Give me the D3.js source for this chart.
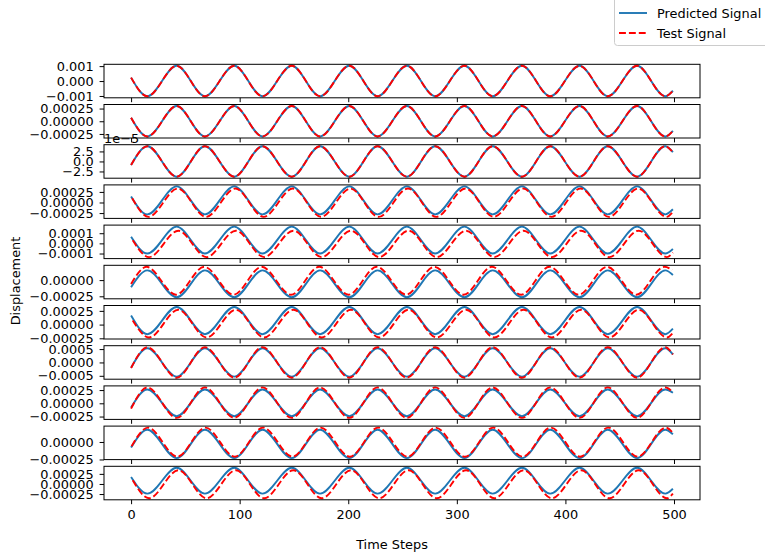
<!DOCTYPE html>
<html>
<head>
<meta charset="utf-8">
<script src="https://cdn.jsdelivr.net/npm/d3@7"></script>
<style>
  html, body { margin: 0; padding: 0; background: #fff; }
  svg { display: block; font-family: 'DejaVu Sans', sans-serif; }
</style>
</head>
<body>
<div id="chart"></div>
<script>
const SIZE = Object.freeze({ WIDTH: 765, HEIGHT: 556 }),
      PLOT = Object.freeze({ LEFT: 104, RIGHT: 700, TOP: 64.3, HEIGHT: 33.5, STEP: 40.2 }),
      FONT_SIZE = 12.9,
      TICK_SIZE = 4.4,
      BLUE = '#1f77b4',
      RED = '#ff0000',
      UNIT = 1e-5

// time steps where the waves turn, plus first and last sample
const STEPS = [0, 15, 42, 68, 95, 121, 148, 174, 201, 227, 254, 280, 307, 333, 360, 386, 413, 439, 466, 492, 499]
const X_TICKS = [0, 100, 200, 300, 400, 500]

// displacement, in units of 1e-5
const PREDICTED = [
  [23, -102, 102, -102, 102, -102, 102, -102, 102, -102, 102, -102, 102, -102, 102, -102, 102, -102, 102, -102, -65],
  [7, -30, 30, -30, 30, -30, 30, -30, 30, -30, 30, -30, 30, -30, 30, -30, 30, -30, 30, -30, -19],
  [-0.9, 3.8, -3.8, 3.8, -3.8, 3.8, -3.8, 3.8, -3.8, 3.8, -3.8, 3.8, -3.8, 3.8, -3.8, 3.8, -3.8, 3.8, -3.8, 3.8, 2.3],
  [14, -28, 38, -28, 38, -28, 38, -28, 38, -28, 38, -28, 38, -28, 38, -28, 38, -28, 38, -28, -16],
  [6.5, -10, 16.5, -10, 16.5, -10, 16.5, -10, 16.5, -10, 16.5, -10, 16.5, -10, 16.5, -10, 16.5, -10, 16.5, -10, -5.5],
  [-11, 15, -26.5, 15, -26.5, 15, -26.5, 15, -26.5, 15, -26.5, 15, -26.5, 15, -26.5, 15, -26.5, 15, -26.5, 15, 8],
  [16.5, -17.5, 32, -17.5, 32, -17.5, 32, -17.5, 32, -17.5, 32, -17.5, 32, -17.5, 32, -17.5, 32, -17.5, 32, -17.5, -7.5],
  [-20, 53, -53, 53, -53, 53, -53, 53, -53, 53, -53, 53, -53, 53, -53, 53, -53, 53, -53, 53, 30],
  [-8, 26, -24.5, 26, -24.5, 26, -24.5, 26, -24.5, 26, -24.5, 26, -24.5, 26, -24.5, 26, -24.5, 26, -24.5, 26, 20],
  [-8, 17.5, -23, 17.5, -23, 17.5, -23, 17.5, -23, 17.5, -23, 17.5, -23, 17.5, -23, 17.5, -23, 17.5, -23, 17.5, 11],
  [17.5, -24, 40, -24, 40, -24, 40, -24, 40, -24, 40, -24, 40, -24, 40, -24, 40, -24, 40, -24, -12]
]
const TEST = [
  [23, -102, 102, -102, 102, -102, 102, -102, 102, -102, 102, -102, 102, -102, 102, -102, 102, -102, 102, -102, -65],
  [7, -30, 30, -30, 30, -30, 30, -30, 30, -30, 30, -30, 30, -30, 30, -30, 30, -30, 30, -30, -19],
  [-0.9, 3.8, -3.8, 3.8, -3.8, 3.8, -3.8, 3.8, -3.8, 3.8, -3.8, 3.8, -3.8, 3.8, -3.8, 3.8, -3.8, 3.8, -3.8, 3.8, 2.3],
  [10, -34, 33, -34, 33, -34, 33, -34, 33, -34, 33, -34, 33, -34, 33, -34, 33, -34, 33, -34, -22],
  [3, -13.5, 12.5, -13.5, 12.5, -13.5, 12.5, -13.5, 12.5, -13.5, 12.5, -13.5, 12.5, -13.5, 12.5, -13.5, 12.5, -13.5, 12.5, -13.5, -9],
  [-6, 20.5, -22.5, 20.5, -22.5, 20.5, -22.5, 20.5, -22.5, 20.5, -22.5, 20.5, -22.5, 20.5, -22.5, 20.5, -22.5, 20.5, -22.5, 20.5, 15.5],
  [7.5, -23.5, 27, -23.5, 27, -23.5, 27, -23.5, 27, -23.5, 27, -23.5, 27, -23.5, 27, -23.5, 27, -23.5, 27, -23.5, -15],
  [-21, 57, -57, 57, -57, 57, -57, 57, -57, 57, -57, 57, -57, 57, -57, 57, -57, 57, -57, 57, 30],
  [-10, 30, -27.5, 30, -27.5, 30, -27.5, 30, -27.5, 30, -27.5, 30, -27.5, 30, -27.5, 30, -27.5, 30, -27.5, 30, 20.5],
  [-6, 20.5, -21, 20.5, -21, 20.5, -21, 20.5, -21, 20.5, -21, 20.5, -21, 20.5, -21, 20.5, -21, 20.5, -21, 20.5, 13],
  [9, -35.5, 34, -35.5, 34, -35.5, 34, -35.5, 34, -35.5, 34, -35.5, 34, -35.5, 34, -35.5, 34, -35.5, 34, -35.5, -24]
]
// how many time steps the test wave trails the prediction
const TEST_LAG = [0, 0, 0, 1, 1.5, -0.7, 1.5, 0, 0, 0.5, 1.5]

const Y_TICKS = [
  [-100, 0, 100], [-25, 0, 25], [-2.5, 0, 2.5], [-25, 0, 25], [-10, 0, 10], [-25, 0],
  [-25, 0, 25], [-50, 0, 50], [-25, 0, 25], [-25, 0], [-25, 0, 25]
]
const Y_TICK_LABELS = [
  ['−0.001', '0.000', '0.001'],
  ['−0.00025', '0.00000', '0.00025'],
  ['−2.5', '0.0', '2.5'],
  ['−0.00025', '0.00000', '0.00025'],
  ['−0.0001', '0.0000', '0.0001'],
  ['−0.00025', '0.00000'],
  ['−0.00025', '0.00000', '0.00025'],
  ['−0.0005', '0.0000', '0.0005'],
  ['−0.00025', '0.00000', '0.00025'],
  ['−0.00025', '0.00000'],
  ['−0.00025', '0.00000', '0.00025']
]
const OFFSET_TEXT = ['', '', '1e−5', '', '', '', '', '', '', '', '']

const xScale = d3.scaleLinear()
  .domain([-0.05 * 499, 499 * 1.05])
  .range([PLOT.LEFT, PLOT.RIGHT])

const buildPanel = (svg, i, isLast) => {
  const top = PLOT.TOP + i * PLOT.STEP,
        bottom = top + PLOT.HEIGHT,
        pred = STEPS.map((t, k) => ({ t, v: PREDICTED[i][k] })),
        test = STEPS.map((t, k) => ({ t: Math.max(0, Math.min(499, t + TEST_LAG[i])), v: TEST[i][k] })),
        [lo, hi] = d3.extent([...PREDICTED[i], ...TEST[i]]),
        pad = (hi - lo) * 0.05

  const yScale = d3.scaleLinear()
    .domain([lo - pad, hi + pad])
    .range([bottom, top])

  const line = d3.line()
    .x(d => xScale(d.t))
    .y(d => yScale(d.v))
    .curve(d3.curveMonotoneX)

  const g = svg.append('g')

  const xAxis = d3.axisBottom(xScale)
    .tickValues(X_TICKS)
    .tickSize(TICK_SIZE)
    .tickSizeOuter(0)
    .tickPadding(6)
    .tickFormat(isLast ? d3.format('d') : () => '')

  const yAxis = d3.axisLeft(yScale)
    .tickValues(Y_TICKS[i])
    .tickSize(TICK_SIZE)
    .tickSizeOuter(0)
    .tickPadding(6)
    .tickFormat((d, k) => Y_TICK_LABELS[i][k])

  g.append('g')
    .attr('transform', `translate(0, ${bottom})`)
    .call(xAxis)
  g.append('g')
    .attr('transform', `translate(${PLOT.LEFT}, 0)`)
    .call(yAxis)
  g.selectAll('.domain').remove()
  g.selectAll('.tick line').attr('stroke', '#000').attr('stroke-width', 1)
  g.selectAll('.tick text')
    .attr('fill', '#000')
    .style('font-size', `${FONT_SIZE}px`)
    .style('font-family', "'DejaVu Sans', sans-serif")

  g.append('path')
    .datum(pred)
    .attr('fill', 'none')
    .attr('stroke', BLUE)
    .attr('stroke-width', 1.9)
    .attr('d', line)

  g.append('path')
    .datum(test)
    .attr('fill', 'none')
    .attr('stroke', RED)
    .attr('stroke-width', 1.9)
    .attr('stroke-dasharray', '6.9,3')
    .attr('d', line)

  g.append('rect')
    .attr('x', PLOT.LEFT)
    .attr('y', top)
    .attr('width', PLOT.RIGHT - PLOT.LEFT)
    .attr('height', PLOT.HEIGHT)
    .attr('fill', 'none')
    .attr('stroke', '#000')
    .attr('stroke-width', 1)

  if (OFFSET_TEXT[i]) {
    svg.append('text')
      .attr('x', PLOT.LEFT)
      .attr('y', top - 1.5)
      .style('font-size', `${FONT_SIZE}px`)
      .text(OFFSET_TEXT[i])
  }
}

const buildLegend = (svg) => {
  const legend = svg.append('g')
  legend.append('rect')
    .attr('x', 614.5)
    .attr('y', -5)
    .attr('width', 170)
    .attr('height', 50.5)
    .attr('rx', 3)
    .attr('fill', '#fff')
    .attr('fill-opacity', 0.8)
    .attr('stroke', '#cccccc')
    .attr('stroke-width', 1)

  const items = [
    { label: 'Predicted Signal', color: BLUE, dash: null, y: 13 },
    { label: 'Test Signal', color: RED, dash: '6.9,3', y: 33 }
  ]
  items.forEach(item => {
    legend.append('line')
      .attr('x1', 619)
      .attr('x2', 647)
      .attr('y1', item.y)
      .attr('y2', item.y)
      .attr('stroke', item.color)
      .attr('stroke-width', 1.9)
      .attr('stroke-dasharray', item.dash)
    legend.append('text')
      .attr('x', 657)
      .attr('y', item.y)
      .attr('dy', '0.35em')
      .style('font-size', `${FONT_SIZE}px`)
      .text(item.label)
  })
}

const buildChart = () => {
  const svg = d3.select('#chart')
    .append('svg')
    .attr('width', SIZE.WIDTH)
    .attr('height', SIZE.HEIGHT)

  svg.append('rect')
    .attr('width', SIZE.WIDTH)
    .attr('height', SIZE.HEIGHT)
    .attr('fill', '#fff')

  PREDICTED.forEach((_, i) => buildPanel(svg, i, i === PREDICTED.length - 1))

  svg.append('text')
    .attr('transform', 'translate(15, 281) rotate(-90)')
    .attr('text-anchor', 'middle')
    .attr('dy', '0.35em')
    .style('font-size', `${FONT_SIZE}px`)
    .text('Displacement')

  svg.append('text')
    .attr('x', 392)
    .attr('y', 544)
    .attr('text-anchor', 'middle')
    .attr('dy', '0.35em')
    .style('font-size', `${FONT_SIZE}px`)
    .text('Time Steps')

  buildLegend(svg)
}

document.addEventListener('DOMContentLoaded', buildChart)
</script>
</body>
</html>
